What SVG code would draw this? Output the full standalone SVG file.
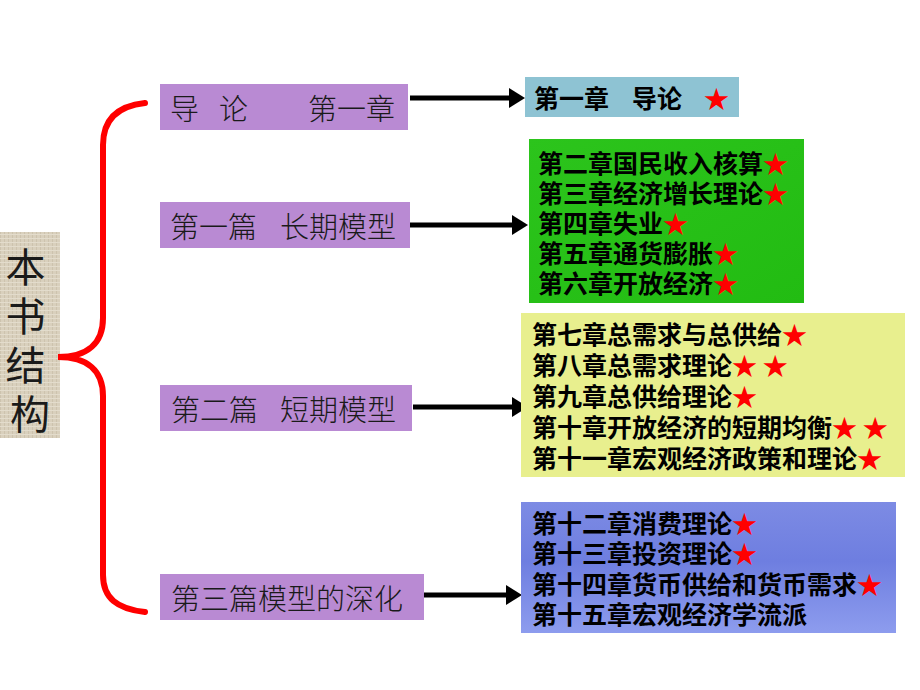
<svg xmlns="http://www.w3.org/2000/svg" width="920" height="690" viewBox="0 0 920 690">
<defs>
<style>
.purple{fill:#b98ad3}
.ptxt{font-family:"Noto Sans CJK SC","Noto Sans CJK TC",sans-serif;font-size:29px;fill:#1a1a1a;dominant-baseline:central;font-weight:300}
.btxt{font-family:"Noto Sans CJK SC","Noto Sans CJK TC",sans-serif;font-size:25px;font-weight:bold;fill:#000;dominant-baseline:central}
.star{fill:#ff0000}
.arrow{stroke:#000;stroke-width:5;fill:none}
</style>
<marker id="ah" markerUnits="userSpaceOnUse" viewBox="0 0 16 20" markerWidth="16" markerHeight="20" refX="0" refY="10" orient="auto">
<path d="M0,0 L16,10 L0,20 Z" fill="#000"/>
</marker>
<linearGradient id="blueg" x1="0" y1="0" x2="0" y2="1">
<stop offset="0" stop-color="#7d8be4"/>
<stop offset="0.45" stop-color="#6e7ee0"/>
<stop offset="1" stop-color="#8d9cee"/>
</linearGradient>
<linearGradient id="greeng" x1="0" y1="0" x2="1" y2="1">
<stop offset="0" stop-color="#2cc41c"/>
<stop offset="1" stop-color="#22bc12"/>
</linearGradient>
<pattern id="linen" width="4" height="4" patternUnits="userSpaceOnUse">
<rect width="4" height="4" fill="#d9d0bd"/>
<rect width="1" height="4" fill="#cdc3ae"/>
<rect width="4" height="1" y="2" fill="#e3dccc"/>
</pattern>
</defs>
<rect width="920" height="690" fill="#ffffff"/>

<g id="root">
<rect x="0" y="232" width="60" height="206" fill="url(#linen)"/>
<text class="ptxt" style="font-size:40px;font-weight:normal" text-anchor="middle">
<tspan x="30" y="265">本</tspan>
<tspan x="30" y="314">书</tspan>
<tspan x="30" y="363">结</tspan>
<tspan x="30" y="412">构</tspan>
</text>
</g>

<g id="brace">
<path d="M145,103 C117,106 103,120 103,145 L103,318 C103,343 88,357 58,357 C88,357 103,371 103,396 L103,575 C103,598 117,609 145,612" fill="none" stroke="#ff0000" stroke-width="6" stroke-linecap="round"/>
</g>

<g id="part0">
<rect class="purple" x="160" y="84" width="248" height="46"/>
<text class="ptxt"><tspan x="170" y="107">导</tspan><tspan x="219" y="107">论</tspan><tspan x="308" y="107">第一章</tspan></text>
</g>
<g id="part1">
<rect class="purple" x="160" y="202" width="250" height="46"/>
<text class="ptxt"><tspan x="170" y="225">第一篇</tspan><tspan x="280" y="225">长期模型</tspan></text>
</g>
<g id="part2">
<rect class="purple" x="160" y="385" width="252" height="46"/>
<text class="ptxt"><tspan x="171" y="408">第二篇</tspan><tspan x="280" y="408">短期模型</tspan></text>
</g>
<g id="part3">
<rect class="purple" x="160" y="574" width="264" height="46"/>
<text class="ptxt" x="171" y="597">第三篇模型的深化</text>
</g>

<g id="connectors">
<line class="arrow" x1="410" y1="98" x2="509" y2="98" marker-end="url(#ah)"/>
<line class="arrow" x1="410" y1="225" x2="512" y2="225" marker-end="url(#ah)"/>
<line class="arrow" x1="413" y1="407" x2="512" y2="407" marker-end="url(#ah)"/>
<line class="arrow" x1="424" y1="595" x2="506" y2="595" marker-end="url(#ah)"/>
</g>

<g id="intro">
<rect x="525" y="77" width="214" height="40" fill="#8ec3d3"/>
<text class="btxt"><tspan x="534" y="97">第一章</tspan><tspan x="632" y="97">导论</tspan><tspan class="star" x="704" y="97">★</tspan></text>
</g>

<g id="long">
<rect x="529" y="139" width="275" height="164" fill="url(#greeng)"/>
<text class="btxt">
<tspan x="538" y="162">第二章国民收入核算<tspan class="star">★</tspan></tspan>
<tspan x="538" y="192">第三章经济增长理论<tspan class="star">★</tspan></tspan>
<tspan x="538" y="222">第四章失业<tspan class="star">★</tspan></tspan>
<tspan x="538" y="252">第五章通货膨胀<tspan class="star">★</tspan></tspan>
<tspan x="538" y="282">第六章开放经济<tspan class="star">★</tspan></tspan>
</text>
</g>

<g id="short">
<rect x="521" y="313" width="384" height="164" fill="#e8ef8e"/>
<text class="btxt">
<tspan x="532" y="333">第七章总需求与总供给<tspan class="star">★</tspan></tspan>
<tspan x="532" y="364">第八章总需求理论<tspan class="star">★ ★</tspan></tspan>
<tspan x="532" y="395">第九章总供给理论<tspan class="star">★</tspan></tspan>
<tspan x="532" y="426">第十章开放经济的短期均衡<tspan class="star">★ ★</tspan></tspan>
<tspan x="532" y="457">第十一章宏观经济政策和理论<tspan class="star">★</tspan></tspan>
</text>
</g>

<g id="deep">
<rect x="521" y="502" width="375" height="131" fill="url(#blueg)"/>
<text class="btxt">
<tspan x="532" y="522">第十二章消费理论<tspan class="star">★</tspan></tspan>
<tspan x="532" y="552">第十三章投资理论<tspan class="star">★</tspan></tspan>
<tspan x="532" y="583">第十四章货币供给和货币需求<tspan class="star">★</tspan></tspan>
<tspan x="532" y="613">第十五章宏观经济学流派</tspan>
</text>
</g>
</svg>
